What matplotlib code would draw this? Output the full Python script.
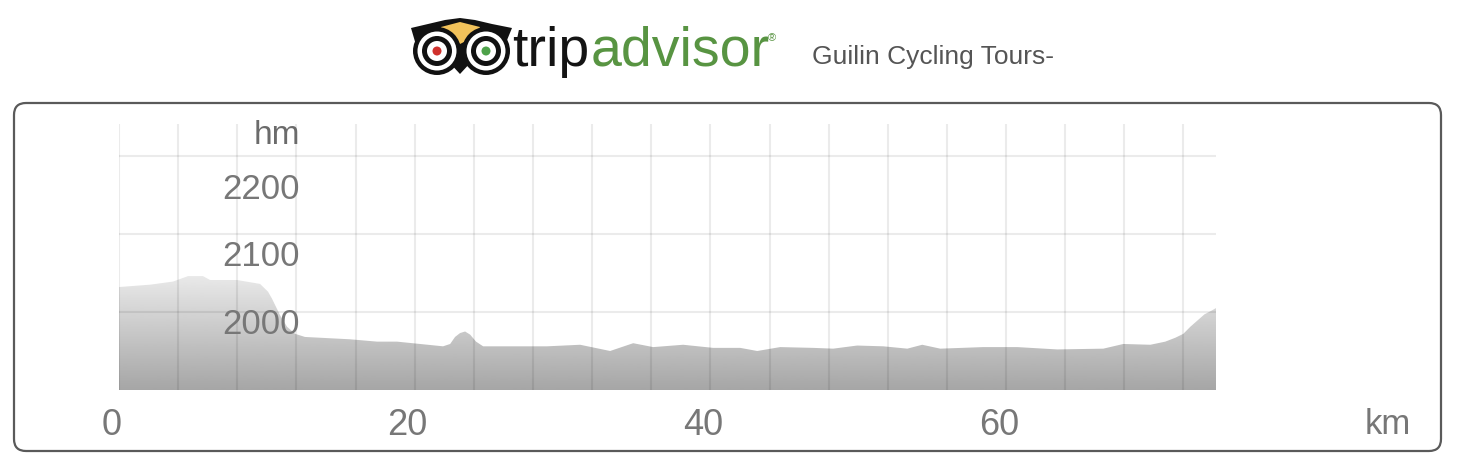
import matplotlib.pyplot as plt
import matplotlib.transforms as mtransforms
from matplotlib.patches import FancyBboxPatch, Circle, Polygon
import numpy as np

# elevation profile (km, m)
km = [0, 2.1, 3.65, 4.67, 5.68, 6.16, 7.98, 9.54, 10.08, 10.35, 10.89, 11.37,
      11.91, 12.58, 15.63, 17.46, 18.81, 21.92, 22.4, 22.73, 23.07, 23.41,
      23.75, 24.15, 24.63, 26.66, 28.96, 31.19, 33.22, 34.78, 36.13, 38.16,
      40.19, 42.02, 43.17, 44.72, 46.96, 48.31, 49.93, 51.69, 53.32, 54.33,
      55.55, 58.46, 60.76, 63.46, 66.58, 67.93, 69.76, 70.77, 71.45, 71.99,
      72.46, 72.94, 73.42, 73.83, 74.2]
elev = [2032, 2035, 2039, 2046, 2046, 2041, 2041, 2036, 2026, 2017, 1996, 1981,
        1972, 1968, 1965, 1962, 1962, 1956, 1959, 1968, 1973, 1975,
        1971, 1962, 1956, 1956, 1956, 1958, 1950, 1960, 1955, 1958,
        1954, 1954, 1950, 1955, 1954, 1953, 1957, 1956, 1953, 1958,
        1953, 1955, 1955, 1952, 1953, 1959, 1958, 1962, 1967, 1972,
        1981, 1989, 1997, 2001, 2005]

x_grid = list(range(0, 73, 4))
x_labels = [0, 20, 40, 60]
y_grid = [2000, 2100, 2200]
y_label_pos = [1985, 2073, 2158]   # labels sit a bit under their grid lines

W, H = 1459, 464
plt.rcParams['font.family'] = ['Liberation Sans', 'DejaVu Sans']
fig = plt.figure(figsize=(W / 100, H / 100), dpi=100)

# background axes in pixel coordinates
bg = fig.add_axes([0, 0, 1, 1], zorder=0)
bg.set_xlim(0, W)
bg.set_ylim(H, 0)
bg.axis('off')

bg.add_patch(FancyBboxPatch((14, 104), 1427, 348,
                            boxstyle='round,pad=0,rounding_size=12',
                            fc='none', ec='#5a5a5a', lw=1.6))

# owl logo
bg.add_patch(Polygon([(411, 29), (428, 25), (445, 21), (460, 19), (475, 21),
                      (492, 25), (512, 29), (505, 46), (472, 62), (460, 75),
                      (448, 62), (416, 46)], closed=True, fc='#111111', ec='none'))
bg.add_patch(Polygon([(441, 28), (460, 23), (480, 28), (476, 37), (460, 45),
                      (444, 37)], closed=True, fc='#f2c25a', ec='none'))
for cx, pupil in [(437, '#d0312d'), (486, '#4ea24a')]:
    for r, c in [(24, '#111111'), (19.5, 'white'), (15, '#111111'),
                 (10, 'white'), (4.5, pupil)]:
        bg.add_patch(Circle((cx, 52), r, fc=c, ec='none'))

trip = bg.text(512, 66, 'trip', fontsize=40, color='#141414', va='baseline',
               ha='left')
fig.canvas.draw()
ext = trip.get_window_extent()
x_end = bg.transData.inverted().transform((ext.x1, ext.y0))[0]
adv = bg.text(x_end + 1, 66, 'advisor', fontsize=40, color='#589442',
              va='baseline', ha='left')
bg.text(768, 38, '®', fontsize=8, color='#589442', va='center', ha='left')
bg.text(812, 57, 'Guilin Cycling Tours-', fontsize=19, color='#555555',
        va='center', ha='left')
bg.text(1411, 425, 'km', fontsize=25, color='#777777', va='center', ha='right')

# chart axes
ax = fig.add_axes([119 / W, (H - 391) / H, (1216 - 119) / W, (391 - 125) / H],
                  zorder=1)
ax.set_facecolor('none')
ax.set_xlim(0, 74.2)
ax.set_ylim(1900, 2241)

# gradient filled profile
shape = ax.fill_between(km, elev, 1900, facecolor='none', edgecolor='none')
yy = np.linspace(1900, 2241, 400)
shade = (0xa6 + np.clip((yy - 1900) / 175, 0, 1) * (0xf6 - 0xa6)) / 255
img = ax.imshow(shade[:, None], extent=[0, 74.2, 1900, 2241], origin='lower',
                aspect='auto', cmap='gray', vmin=0, vmax=1,
                interpolation='bilinear', zorder=1)
img.set_clip_path(shape.get_paths()[0], transform=ax.transData)

ax.set_xticks(x_grid)
ax.set_yticks(y_grid)
ax.set_axisbelow(False)
ax.grid(True, color='black', alpha=0.08, lw=1.5)
ax.tick_params(length=0, labelbottom=False, labelleft=False)
for s in ax.spines.values():
    s.set_visible(False)

# axis labels
shift = mtransforms.ScaledTranslation(-7 / 100, 0, fig.dpi_scale_trans)
xt = mtransforms.blended_transform_factory(ax.transData, ax.transAxes) + shift
for v in x_labels:
    ax.text(v, -0.128, str(v), transform=xt, fontsize=26, color='#777777',
            ha='center', va='center', clip_on=False)

yt = mtransforms.blended_transform_factory(ax.transAxes, ax.transData)
for v, pos in zip(y_grid, y_label_pos):
    ax.text(0.165, pos, str(v), transform=yt, fontsize=25, color='#777777',
            ha='right', va='center', zorder=5)
ax.text(0.165, 2228, 'hm', transform=yt, fontsize=24, color='#6b6b6b',
        ha='right', va='center', zorder=5)

fig.savefig('out.png', dpi=100)
